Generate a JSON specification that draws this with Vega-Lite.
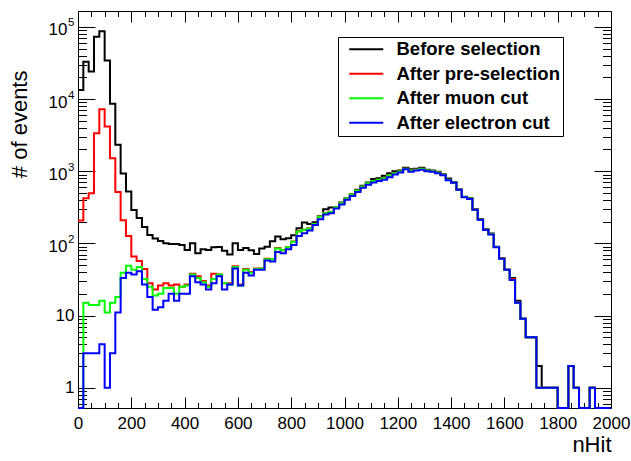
{
  "$schema": "https://vega.github.io/schema/vega-lite/v6.json",
  "autosize": {"type": "none"},
  "width": 533,
  "height": 397,
  "padding": {"left": 78, "top": 11, "right": 20, "bottom": 53},
  "background": "white",
  "config": {"view": {"stroke": null}, "mark": {"invalid": "show"}},
  "data": {
    "values": [
      {"x":0,"b":13300,"p":207,"m":0,"e":0},
      {"x":20,"b":33000,"p":423,"m":15,"e":3},
      {"x":40,"b":24000,"p":496,"m":14,"e":3},
      {"x":60,"b":73000,"p":3350,"m":14,"e":3},
      {"x":80,"b":87000,"p":7200,"m":16,"e":4},
      {"x":100,"b":34300,"p":4170,"m":11,"e":1},
      {"x":120,"b":8600,"p":1510,"m":15,"e":3},
      {"x":140,"b":2320,"p":515,"m":18,"e":11},
      {"x":160,"b":930,"p":209,"m":39,"e":33},
      {"x":180,"b":525,"p":127,"m":49,"e":39},
      {"x":200,"b":291,"p":66,"m":43,"e":37},
      {"x":220,"b":225,"p":57,"m":47,"e":41},
      {"x":240,"b":168,"p":44,"m":32,"e":27},
      {"x":260,"b":131,"p":28,"m":25,"e":18},
      {"x":280,"b":117,"p":23,"m":19,"e":12},
      {"x":300,"b":108,"p":26,"m":20,"e":13},
      {"x":320,"b":100,"p":28,"m":24,"e":16},
      {"x":340,"b":98,"p":26,"m":24,"e":20},
      {"x":360,"b":98,"p":27,"m":20,"e":16},
      {"x":380,"b":95,"p":25,"m":25,"e":20},
      {"x":400,"b":81,"p":27,"m":26,"e":20},
      {"x":420,"b":100,"p":38,"m":37,"e":35},
      {"x":440,"b":73,"p":35,"m":33,"e":29},
      {"x":460,"b":83,"p":30,"m":29,"e":27},
      {"x":480,"b":81,"p":26,"m":25,"e":23},
      {"x":500,"b":88,"p":38,"m":32,"e":28},
      {"x":520,"b":89,"p":37,"m":37,"e":35},
      {"x":540,"b":79,"p":28,"m":28,"e":23},
      {"x":560,"b":70,"p":28,"m":27,"e":27},
      {"x":580,"b":100,"p":48,"m":47,"e":45},
      {"x":600,"b":81,"p":27,"m":26,"e":26},
      {"x":620,"b":86,"p":44,"m":43,"e":39},
      {"x":640,"b":80,"p":40,"m":39,"e":36},
      {"x":660,"b":71,"p":45,"m":44,"e":43},
      {"x":680,"b":85,"p":45,"m":45,"e":43},
      {"x":700,"b":90,"p":61,"m":60,"e":58},
      {"x":720,"b":107,"p":60,"m":60,"e":56},
      {"x":740,"b":124,"p":86,"m":85,"e":76},
      {"x":760,"b":114,"p":80,"m":80,"e":73},
      {"x":780,"b":118,"p":89,"m":88,"e":83},
      {"x":800,"b":130,"p":106,"m":105,"e":95},
      {"x":820,"b":162,"p":147,"m":146,"e":127},
      {"x":840,"b":194,"p":155,"m":154,"e":138},
      {"x":860,"b":186,"p":162,"m":161,"e":151},
      {"x":880,"b":196,"p":187,"m":186,"e":180},
      {"x":900,"b":240,"p":236,"m":235,"e":216},
      {"x":920,"b":297,"p":264,"m":262,"e":251},
      {"x":940,"b":313,"p":275,"m":273,"e":262},
      {"x":960,"b":320,"p":318,"m":316,"e":304},
      {"x":980,"b":368,"p":362,"m":360,"e":345},
      {"x":1000,"b":420,"p":418,"m":417,"e":401},
      {"x":1020,"b":480,"p":477,"m":475,"e":455},
      {"x":1040,"b":552,"p":542,"m":540,"e":517},
      {"x":1060,"b":627,"p":614,"m":612,"e":588},
      {"x":1080,"b":697,"p":683,"m":681,"e":650},
      {"x":1100,"b":777,"p":732,"m":730,"e":700},
      {"x":1120,"b":800,"p":762,"m":760,"e":730},
      {"x":1140,"b":862,"p":802,"m":800,"e":760},
      {"x":1160,"b":939,"p":872,"m":870,"e":827},
      {"x":1180,"b":1000,"p":942,"m":940,"e":900},
      {"x":1200,"b":1023,"p":992,"m":990,"e":960},
      {"x":1220,"b":1114,"p":1082,"m":1080,"e":1067},
      {"x":1240,"b":1067,"p":1022,"m":1020,"e":980},
      {"x":1260,"b":1079,"p":1052,"m":1050,"e":1023},
      {"x":1280,"b":1114,"p":1082,"m":1080,"e":1045},
      {"x":1300,"b":1045,"p":1022,"m":1020,"e":1000},
      {"x":1320,"b":1023,"p":1002,"m":1000,"e":980},
      {"x":1340,"b":980,"p":962,"m":960,"e":939},
      {"x":1360,"b":910,"p":892,"m":890,"e":880},
      {"x":1380,"b":790,"p":762,"m":760,"e":750},
      {"x":1400,"b":710,"p":697,"m":695,"e":690},
      {"x":1420,"b":560,"p":555,"m":553,"e":552},
      {"x":1440,"b":443,"p":440,"m":438,"e":437},
      {"x":1460,"b":426,"p":420,"m":417,"e":413},
      {"x":1480,"b":297,"p":294,"m":293,"e":292},
      {"x":1500,"b":218,"p":215,"m":214,"e":213},
      {"x":1520,"b":157,"p":155,"m":154,"e":153},
      {"x":1540,"b":137,"p":135,"m":134,"e":133},
      {"x":1560,"b":90,"p":89,"m":89,"e":88},
      {"x":1580,"b":62,"p":62,"m":61,"e":61},
      {"x":1600,"b":43,"p":43,"m":43,"e":43},
      {"x":1620,"b":33,"p":32,"m":31,"e":31},
      {"x":1640,"b":16,"p":15,"m":15,"e":15},
      {"x":1660,"b":9,"p":9,"m":9,"e":9},
      {"x":1680,"b":5,"p":5,"m":5,"e":5},
      {"x":1700,"b":5,"p":5,"m":5,"e":5},
      {"x":1720,"b":2,"p":1,"m":1,"e":1},
      {"x":1740,"b":1,"p":1,"m":1,"e":1},
      {"x":1760,"b":1,"p":1,"m":1,"e":1},
      {"x":1780,"b":1,"p":1,"m":1,"e":1},
      {"x":1800,"b":0,"p":0,"m":0,"e":0},
      {"x":1820,"b":0,"p":0,"m":0,"e":0},
      {"x":1840,"b":2,"p":2,"m":2,"e":2},
      {"x":1860,"b":1,"p":1,"m":1,"e":1},
      {"x":1880,"b":0,"p":0,"m":0,"e":0},
      {"x":1900,"b":0,"p":0,"m":0,"e":0},
      {"x":1920,"b":1,"p":1,"m":1,"e":1},
      {"x":1940,"b":0,"p":0,"m":0,"e":0},
      {"x":1960,"b":0,"p":0,"m":0,"e":0},
      {"x":1980,"b":0,"p":0,"m":0,"e":0},
      {"x":2000,"b":0,"p":0,"m":0,"e":0}
    ]
  },
  "transform": [{"fold": ["b", "p", "m", "e"], "as": ["series", "n"]}],
  "layer": [
    {
      "mark": {"type": "line", "interpolate": "step-after", "strokeWidth": 2},
      "encoding": {
        "x": {
          "field": "x", "type": "quantitative",
          "scale": {"domain": [0, 2000], "nice": false, "zero": false},
          "axis": {
            "orient": "bottom",
            "title": "nHit",
            "titleFont": "Liberation Sans", "titleFontSize": 22, "titleFontWeight": "normal", "titleColor": "black",
            "titleAnchor": "end", "titleAlign": "right", "titleX": 533, "titleY": 43, "titleBaseline": "alphabetic",
            "values": [0,50,100,150,200,250,300,350,400,450,500,550,600,650,700,750,800,850,900,950,1000,1050,1100,1150,1200,1250,1300,1350,1400,1450,1500,1550,1600,1650,1700,1750,1800,1850,1900,1950,2000],
            "format": "d",
            "labelExpr": "datum.value % 200 === 0 ? datum.label : ''",
            "labelFont": "Liberation Sans", "labelFontSize": 17, "labelColor": "black",
            "labelPadding": 18, "labelFlush": false, "labelOverlap": false, "labelBound": false,
            "tickSize": {"condition": {"test": "datum.value % 200 === 0", "value": -11}, "value": -5.5},
            "tickColor": "black", "tickWidth": 1, "domainColor": "black", "domainWidth": 1, "grid": false
          }
        },
        "y": {
          "field": "n", "type": "quantitative",
          "scale": {"type": "log", "domain": [0.523, 166000], "nice": false, "clamp": true},
          "axis": {
            "orient": "left",
            "title": "# of events",
            "titleFont": "Liberation Sans", "titleFontSize": 22, "titleFontWeight": "normal", "titleColor": "black",
            "titleAngle": 270, "titleAlign": "right", "titleBaseline": "alphabetic", "titleX": -52, "titleY": 59,
            "values": [0.6,0.7,0.8,0.9,1,2,3,4,5,6,7,8,9,10,20,30,40,50,60,70,80,90,100,200,300,400,500,600,700,800,900,1000,2000,3000,4000,5000,6000,7000,8000,9000,10000,20000,30000,40000,50000,60000,70000,80000,90000,100000],
            "labelExpr": "datum.value === 1 ? '1' : (datum.value === 10 || datum.value === 100 || datum.value === 1000 || datum.value === 10000 || datum.value === 100000) ? '10' : ''",
            "labelFont": "Liberation Sans", "labelFontSize": 17, "labelColor": "black",
            "labelPadding": {"condition": {"test": "datum.value >= 100", "value": 28}, "value": 21},
            "labelOffset": {"condition": {"test": "datum.value >= 100", "value": 3}, "value": 0},
            "labelFlush": false, "labelOverlap": false, "labelBound": false,
            "tickSize": {"condition": {"test": "indexof([1,10,100,1000,10000,100000], datum.value) >= 0", "value": -17}, "value": -8.5},
            "tickColor": "black", "tickWidth": 1, "domainColor": "black", "domainWidth": 1, "grid": false
          }
        },
        "color": {
          "field": "series", "type": "nominal",
          "scale": {"domain": ["b", "p", "m", "e"], "range": ["#000000", "#ff0000", "#00ff00", "#0000ff"]},
          "legend": {
            "orient": "none", "legendX": 260, "legendY": 26, "title": null,
            "labelExpr": "datum.value === 'b' ? 'Before selection' : datum.value === 'p' ? 'After pre-selection' : datum.value === 'm' ? 'After muon cut' : 'After electron cut'",
            "strokeColor": "black", "fillColor": "white", "padding": 3,
            "symbolType": "M-0.167,0H5.5", "symbolSize": 144, "symbolStrokeWidth": 2,
            "labelFont": "Liberation Sans", "labelFontWeight": "bold", "labelFontSize": 18.5, "labelColor": "black",
            "labelOffset": 37, "rowPadding": 5.5, "labelLimit": 400
          }
        }
      }
    },
    {
      "mark": {"type": "line", "interpolate": "step-after", "opacity": 0},
      "encoding": {
        "x": {
          "field": "x", "type": "quantitative",
          "axis": {
            "orient": "top", "title": null, "labels": false,
            "values": [0,50,100,150,200,250,300,350,400,450,500,550,600,650,700,750,800,850,900,950,1000,1050,1100,1150,1200,1250,1300,1350,1400,1450,1500,1550,1600,1650,1700,1750,1800,1850,1900,1950,2000],
            "tickSize": {"condition": {"test": "datum.value % 200 === 0", "value": -11}, "value": -5.5},
            "tickColor": "black", "domainColor": "black", "grid": false
          }
        },
        "y": {
          "field": "n", "type": "quantitative",
          "axis": {
            "orient": "right", "title": null, "labels": false,
            "values": [0.6,0.7,0.8,0.9,1,2,3,4,5,6,7,8,9,10,20,30,40,50,60,70,80,90,100,200,300,400,500,600,700,800,900,1000,2000,3000,4000,5000,6000,7000,8000,9000,10000,20000,30000,40000,50000,60000,70000,80000,90000,100000],
            "tickSize": {"condition": {"test": "indexof([1,10,100,1000,10000,100000], datum.value) >= 0", "value": -17}, "value": -8.5},
            "tickColor": "black", "domainColor": "black", "grid": false
          }
        }
      }
    },
    {
      "mark": {"type": "line", "interpolate": "step-after", "opacity": 0},
      "encoding": {
        "x": {"field": "x", "type": "quantitative", "axis": null},
        "y": {
          "field": "n", "type": "quantitative",
          "axis": {
            "orient": "left", "title": null, "domain": false, "ticks": false, "tickSize": 0, "grid": false,
            "values": [100, 1000, 10000, 100000],
            "labelExpr": "datum.value === 100 ? '2' : datum.value === 1000 ? '3' : datum.value === 10000 ? '4' : '5'",
            "labelFont": "Liberation Sans", "labelFontSize": 11.5, "labelColor": "black",
            "labelPadding": 4, "labelOffset": -4, "labelFlush": false, "labelOverlap": false, "labelBound": false
          }
        }
      }
    }
  ],
  "resolve": {"axis": {"x": "independent", "y": "independent"}}
}
